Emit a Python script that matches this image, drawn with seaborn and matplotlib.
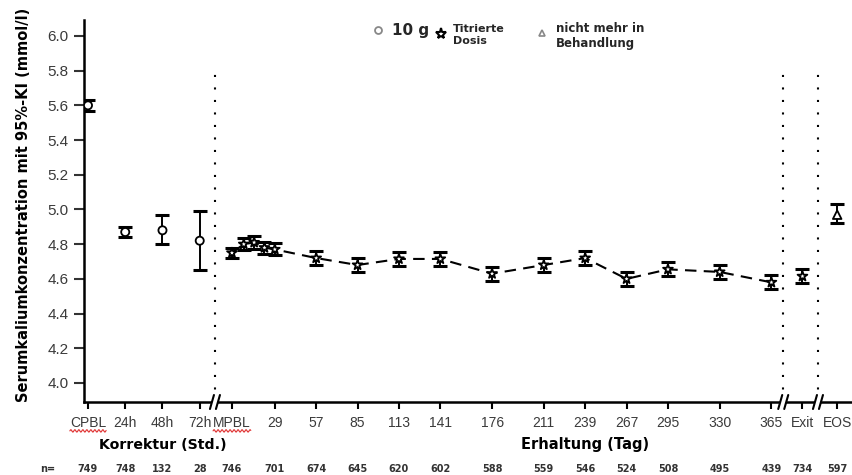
import numpy as np
import pandas as pd
import matplotlib
matplotlib.use("Agg")
import matplotlib.pyplot as plt
import matplotlib.transforms as mtransforms
from matplotlib.lines import Line2D
from matplotlib.patches import Rectangle
import seaborn as sns

# ---------------- data ----------------
corr_labels = ["CPBL", "24h", "48h", "72h"]
corr_hours = [0, 24, 48, 72]
corr_mean = [5.60, 4.87, 4.88, 4.82]
corr_lo = [5.57, 4.84, 4.80, 4.65]
corr_hi = [5.63, 4.90, 4.97, 4.99]
corr_n = [749, 748, 132, 28]

maint_days = [0, 8, 15, 22, 29, 57, 85, 113, 141, 176, 211, 239, 267, 295, 330, 365]
maint_mean = [4.75, 4.80, 4.81, 4.78, 4.77, 4.72, 4.68, 4.715, 4.715, 4.63,
              4.68, 4.72, 4.60, 4.655, 4.64, 4.58]
maint_lo = [4.72, 4.765, 4.775, 4.745, 4.735, 4.68, 4.64, 4.675, 4.675, 4.59,
            4.64, 4.68, 4.56, 4.615, 4.60, 4.54]
maint_hi = [4.78, 4.835, 4.845, 4.815, 4.805, 4.76, 4.72, 4.755, 4.755, 4.67,
            4.72, 4.76, 4.64, 4.695, 4.68, 4.62]
maint_tick_days = [0, 29, 57, 85, 113, 141, 176, 211, 239, 267, 295, 330, 365]
maint_tick_labels = ["MPBL", "29", "57", "85", "113", "141", "176", "211",
                     "239", "267", "295", "330", "365"]
maint_n = [746, 701, 674, 645, 620, 602, 588, 559, 546, 524, 508, 495, 439]

end_labels = ["Exit", "EOS"]
end_mean = [4.615, 4.97]
end_lo = [4.575, 4.92]
end_hi = [4.655, 5.03]
end_n = [734, 597]

grp_10g = "10 g"
grp_tit = "Titrierte Dosis"
grp_off = "nicht mehr in Behandlung"
end_groups = [grp_tit, grp_off]

ylabel = "Serumkaliumkonzentration mit 95%-KI (mmol/l)"
yticks = [4.0, 4.2, 4.4, 4.6, 4.8, 5.0, 5.2, 5.4, 5.6, 5.8, 6.0]

# ---------------- layout (axis mapping) ----------------
CORR_X0 = -97.4
CORR_SCALE = 25.2 / 24.0
END_X = [386.0, 409.5]
BREAK_X = [-11.5, 373.0, 396.5]
XLIM = (-100.1, 420.2)
YLIM = (3.8905, 6.092)

corr_x = [CORR_X0 + h * CORR_SCALE for h in corr_hours]
maint_x = list(maint_days)

df = pd.DataFrame({
    "x": corr_x + maint_x + END_X,
    "mean": corr_mean + maint_mean + end_mean,
    "lo": corr_lo + maint_lo + end_lo,
    "hi": corr_hi + maint_hi + end_hi,
    "group": [grp_10g] * len(corr_x) + [grp_tit] * len(maint_x) + end_groups,
})

sns.set_theme(style="ticks")
plt.rcParams["font.family"] = ["Liberation Sans", "DejaVu Sans"]

W, H = 853, 475
fig = plt.figure(figsize=(W / 100, H / 100), dpi=100)
ax = fig.add_axes([84 / W, 73 / H, 1 - 84 / W, 382 / H])

# dashed maintenance line
sns.lineplot(x=maint_x, y=maint_mean, ax=ax, color="black", linewidth=1.5,
             sort=False, zorder=1, legend=False)
ax.lines[-1].set_linestyle((0, (5.5, 3.5)))

# error bars
ax.errorbar(df["x"], df["mean"], yerr=[df["mean"] - df["lo"], df["hi"] - df["mean"]],
            fmt="none", ecolor="black", elinewidth=1.4, capsize=5.2, capthick=2.2,
            zorder=2)

# markers
markers = {grp_10g: "o", grp_tit: "*", grp_off: "^"}
sizes = {grp_10g: 34, grp_tit: 55, grp_off: 38}
sns.scatterplot(data=df, x="x", y="mean", style="group", markers=markers,
                size="group", sizes=sizes,
                color="white", edgecolor="black", linewidth=1.3,
                ax=ax, legend=False, zorder=3)

# vertical dotted separators
for bx in BREAK_X:
    ax.vlines(bx, YLIM[0], 5.78, colors="black", linewidth=1.5,
              linestyles=(0, (1, 5)), zorder=1)

ax.set_xlim(*XLIM)
ax.set_ylim(*YLIM)
ax.set_xlabel("")
ax.set_ylabel("")

xt = list(corr_x) + [maint_x[maint_days.index(d)] for d in maint_tick_days] + END_X
xl = corr_labels + maint_tick_labels + end_labels
ax.set_xticks(xt)
ax.set_xticklabels(xl)
ax.set_yticks(yticks)
ax.set_yticklabels([f"{v:.1f}" for v in yticks])

ax.tick_params(axis="x", length=5, width=1.5, pad=5, labelsize=10,
               labelcolor="#3a3a3a", color="black", direction="out")
ax.tick_params(axis="y", length=7, width=1.5, pad=4, labelsize=11,
               labelcolor="#3a3a3a", color="#333333", direction="out")
for s in ["top", "right"]:
    ax.spines[s].set_visible(False)
for s in ["left", "bottom"]:
    ax.spines[s].set_linewidth(1.8)
    ax.spines[s].set_color("black")

# axis breaks
px = (XLIM[1] - XLIM[0]) / (W - 84)   # data units per pixel
py = 1.0 / 382                          # axes units per pixel
trans = mtransforms.blended_transform_factory(ax.transData, ax.transAxes)
for bx in BREAK_X:
    ax.add_patch(Rectangle((bx - 3 * px, -4 * py), 6 * px, 8 * py, transform=trans,
                           facecolor="white", edgecolor="none", clip_on=False, zorder=5))
    for off in (-3, 3):
        ax.add_line(Line2D([bx + (off - 2) * px, bx + (off + 2) * px],
                           [-7 * py, 7 * py], transform=trans, color="black",
                           linewidth=1.5, clip_on=False, zorder=6))

# n row
n_x = list(corr_x) + [maint_x[maint_days.index(d)] for d in maint_tick_days] + END_X
n_vals = corr_n + maint_n + end_n
for xv, nv in zip(n_x, n_vals):
    ax.text(xv, -67 * py, str(nv), transform=trans, ha="center", va="center",
            fontsize=7, color="#333333", fontweight="bold", family="DejaVu Sans")
fig.text(48 / W, 1 - 469 / H, "n=", ha="center", va="center", fontsize=7,
         color="#333333", fontweight="bold", family="DejaVu Sans")

# group labels
ax.text(corr_x[2], -43 * py, "Korrektur (Std.)", transform=trans, ha="center",
        va="center", fontsize=10.2, fontweight="bold", color="black", family="DejaVu Sans")
ax.text(239, -43 * py, "Erhaltung (Tag)", transform=trans, ha="center",
        va="center", fontsize=10.5, fontweight="bold", color="black", family="DejaVu Sans")

# y label
fig.text(24 / W, 1 - 205 / H, ylabel, rotation=90, ha="center", va="center",
         fontsize=10.5, fontweight="bold", color="black", family="DejaVu Sans")

# legend (custom, top)
def fx(p):
    return p / W

def fy(p):
    return 1 - p / H

fig.add_artist(Line2D([fx(378)], [fy(30)], marker="o", markersize=5,
                      markerfacecolor="white", markeredgecolor="#888888",
                      markeredgewidth=1.3, linestyle="none"))
fig.text(fx(392), fy(30), "10 g", ha="left", va="center", fontsize=11,
         fontweight="bold", family="DejaVu Sans")
fig.add_artist(Line2D([fx(441)], [fy(34)], marker="*", markersize=8,
                      markerfacecolor="white", markeredgecolor="black",
                      markeredgewidth=1.5, linestyle="none"))
fig.text(fx(453), fy(35), "Titrierte\nDosis", ha="left", va="center", fontsize=8,
         fontweight="bold", family="DejaVu Sans", linespacing=1.3)
fig.add_artist(Line2D([fx(542)], [fy(33)], marker="^", markersize=5,
                      markerfacecolor="white", markeredgecolor="#888888",
                      markeredgewidth=1.2, linestyle="none"))
fig.text(fx(556), fy(36), "nicht mehr in\nBehandlung", ha="left", va="center",
         fontsize=8.5, fontweight="bold", family="DejaVu Sans", linespacing=1.3)

# red spell-check squiggles under CPBL and MPBL
fig.canvas.draw()
renderer = fig.canvas.get_renderer()
for lab in ax.get_xticklabels():
    if lab.get_text() in ("CPBL", "MPBL"):
        bb = lab.get_window_extent(renderer)
        xs = np.linspace(bb.x0, bb.x1, 80)
        ys = bb.y0 - 1.0 + 1.2 * np.sin((xs - bb.x0) / 4.0 * 2 * np.pi)
        fig.add_artist(Line2D(xs / W, ys / H, color="#e03030", linewidth=0.8))

fig.savefig("out.png", dpi=100)
